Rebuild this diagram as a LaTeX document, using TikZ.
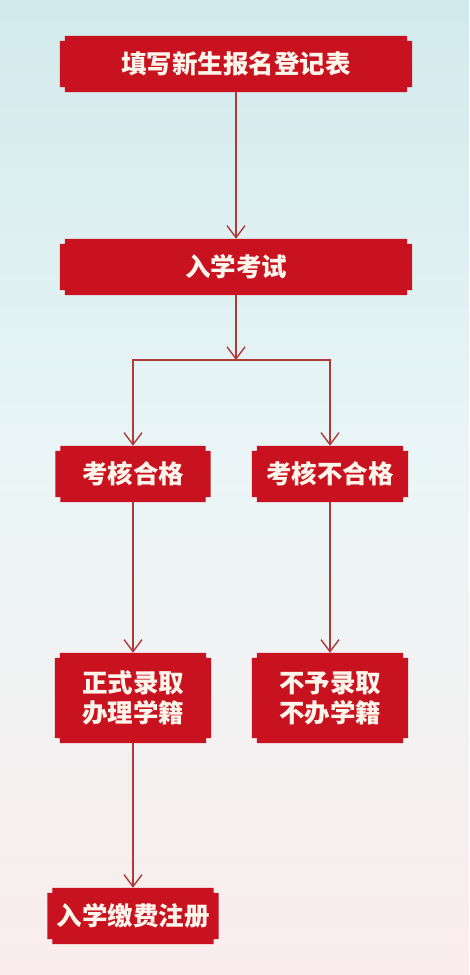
\documentclass[tikz,border=0pt]{standalone}
\usepackage{fontspec}
\newfontfamily\cjk{Noto Sans CJK SC}
\usepackage{tikz}
\usetikzlibrary{arrows.meta,backgrounds,calc}
\definecolor{boxred}{RGB}{200,18,32}
\definecolor{linered}{RGB}{176,58,58}
\definecolor{skytop}{RGB}{210,234,236}
\definecolor{pinkbot}{RGB}{250,236,236}

\begin{document}
\begin{tikzpicture}[x=1pt,y=-1pt,>={Straight Barb[length=12pt,width=18pt]},
	box/.style={text=white!92!orange,font=\cjk\bfseries\fontsize{25.5}{30}\selectfont,align=center,inner sep=0pt,minimum height=56pt},
	link/.style={->,draw=linered,line width=1.4pt}]
	\useasboundingbox (0,0) rectangle (469,975);

	\node [box,minimum width=352pt] at (236,64) (fill) {填写新生报名登记表};
	\node [box,minimum width=352pt] at (236,267) (exam) {入学考试};
	\node [box,minimum width=155pt] at (133,474) (pass) {考核合格};
	\node [box,minimum width=156pt] at (330,474) (fail) {考核不合格};
	\node [box,minimum width=156pt,minimum height=90pt] at (133,698) (admit) {正式录取\\办理学籍};
	\node [box,minimum width=156pt,minimum height=90pt] at (330,698) (reject) {不予录取\\不办学籍};
	\node [box,minimum width=171pt] at (133,916) (pay) {入学缴费注册};
	\coordinate (split) at (236,360);

	\begin{scope}[on background layer]
		\shade[top color=skytop,bottom color=pinkbot,middle color=white!55!skytop] (0,0) rectangle (469,975);
		% notched corners
		\foreach \n in {fill,exam,pass,fail,admit,reject,pay}
			\fill[boxred] ($(\n.north west)+(0,5)$) -- ++(5,0) -- ++(0,-5)
				-- ($(\n.north east)+(-5,0)$) -- ++(0,5) -- ++(5,0)
				-- ($(\n.south east)+(0,-5)$) -- ++(-5,0) -- ++(0,5)
				-- ($(\n.south west)+(5,0)$) -- ++(0,-5) -- ++(-5,0) -- cycle;
	\end{scope}

	\path[link]
	(fill) edge (exam)
	(exam) edge (split)
	(pass) edge (admit)
	(fail) edge (reject)
	(admit) edge (pay);
	\draw[link] (split) -| (pass);
	\draw[link] (split) -| (fail);
\end{tikzpicture}
\end{document}
